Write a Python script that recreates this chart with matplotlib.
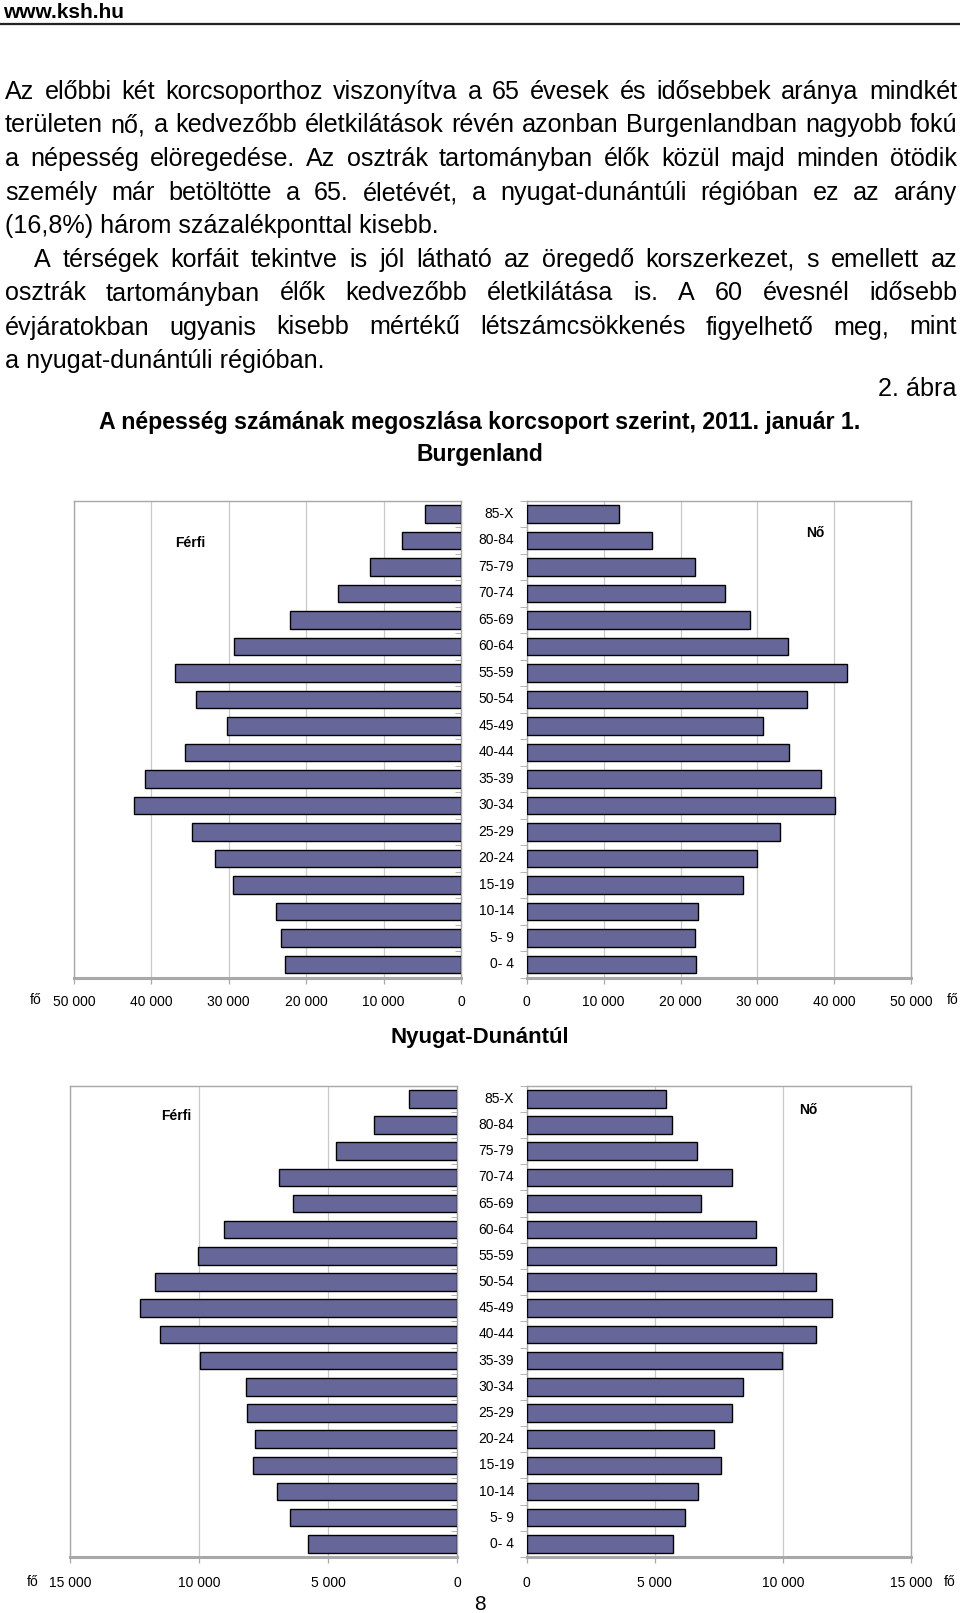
import matplotlib
matplotlib.use("Agg")
import matplotlib.pyplot as plt
import matplotlib.transforms as mtransforms
import numpy as np

plt.rcParams['font.family'] = ['Liberation Sans', 'DejaVu Sans']

# ---------------- data ----------------
age_groups = ["0- 4", "5- 9", "10-14", "15-19", "20-24", "25-29", "30-34", "35-39",
              "40-44", "45-49", "50-54", "55-59", "60-64", "65-69", "70-74", "75-79",
              "80-84", "85-X"]

burg_male = [22740, 23260, 23900, 29460, 31740, 34800, 42290, 40780, 35620,
             30280, 34190, 36950, 29280, 22090, 15930, 11710, 7620, 4650]
burg_female = [21970, 21840, 22310, 28080, 29900, 32970, 40030, 38210, 34140,
               30680, 36440, 41680, 33970, 29030, 25780, 21840, 16290, 12000]

nyd_male = [5800, 6480, 6970, 7900, 7850, 8140, 8180, 9950, 11510,
            12290, 11700, 10050, 9020, 6380, 6920, 4690, 3220, 1860]
nyd_female = [5690, 6190, 6690, 7570, 7320, 8010, 8450, 9970, 11300,
              11900, 11300, 9740, 8950, 6780, 8010, 6640, 5650, 5450]

burg_ticks = [0, 10000, 20000, 30000, 40000, 50000]
nyd_ticks = [0, 5000, 10000, 15000]

header = "www.ksh.hu"
para_lines = [
    ("Az előbbi két korcsoporthoz viszonyítva a 65 évesek és idősebbek aránya mindkét", False, False),
    ("területen nő, a kedvezőbb életkilátások révén azonban Burgenlandban nagyobb fokú", False, False),
    ("a népesség elöregedése. Az osztrák tartományban élők közül majd minden ötödik", False, False),
    ("személy már betöltötte a 65. életévét, a nyugat-dunántúli régióban ez az arány", False, False),
    ("(16,8%) három százalékponttal kisebb.", False, True),
    ("A térségek korfáit tekintve is jól látható az öregedő korszerkezet, s emellett az", True, False),
    ("osztrák tartományban élők kedvezőbb életkilátása is. A 60 évesnél idősebb", False, False),
    ("évjáratokban ugyanis kisebb mértékű létszámcsökkenés figyelhető meg, mint", False, False),
    ("a nyugat-dunántúli régióban.", False, True),
]
fig_label = "2. ábra"
title = "A népesség számának megoszlása korcsoport szerint, 2011. január 1."
sub1 = "Burgenland"
sub2 = "Nyugat-Dunántúl"
male_lbl = "Férfi"
female_lbl = "Nő"
unit = "fő"
page_no = "8"

# ---------------- layout helpers ----------------
W, H = 960, 1613
fig = plt.figure(figsize=(W / 100, H / 100), dpi=100)
BAR = "#666699"
FRAME = "#a8a8a8"
GRID = "#c8c8c8"


def px2fig(x, y):
    return x / W, 1 - y / H


def add_axes_px(x0, y0, x1, y1):
    return fig.add_axes([x0 / W, 1 - y1 / H, (x1 - x0) / W, (y1 - y0) / H])


def fmt(v):
    return f"{int(v):,}".replace(",", " ")


def fig_text(x, y, s, **kw):
    fx, fy = px2fig(x, y)
    return fig.text(fx, fy, s, **kw)


# header
fig_text(3, 18, header, fontsize=15, fontweight='bold', ha='left', va='baseline')
fig.add_artist(plt.Line2D([0, 1], [1 - 24 / H, 1 - 24 / H], color='#222222', linewidth=1.6))

# justified paragraph: font size chosen so the widest line fits with natural spacing
renderer = fig.canvas.get_renderer()
xl, xr = 5, 957
probe_size = 10.0
max_ratio = 0
for line, indent, last in para_lines:
    t = fig_text(0, 0, line, fontsize=probe_size)
    w = t.get_window_extent(renderer).width
    t.remove()
    avail = xr - xl - (29 if indent else 0)
    max_ratio = max(max_ratio, w / avail)
BODY = probe_size / max_ratio * 0.995

line_centers = [91, 124, 158, 192, 225.5, 259, 292.5, 326.5, 360]
for (line, indent, last), yc in zip(para_lines, line_centers):
    yb = yc + 8
    x0 = xl + (29 if indent else 0)
    if last:
        fig_text(x0, yb, line, fontsize=BODY, ha='left', va='baseline')
        continue
    words = line.split(" ")
    texts = [fig_text(0, yb, w, fontsize=BODY, ha='left', va='baseline') for w in words]
    widths = [t.get_window_extent(renderer).width for t in texts]
    gap = (xr - x0 - sum(widths)) / (len(words) - 1)
    x = x0
    for t, wd in zip(texts, widths):
        t.set_x(x / W)
        x += wd + gap

fig_text(957, 396, fig_label, fontsize=BODY, ha='right', va='baseline')
fig_text(480, 423, title, fontsize=16.7, fontweight='bold', ha='center', va='center')
fig_text(480, 455, sub1, fontsize=16.5, fontweight='bold', ha='center', va='center')
fig_text(480, 1037, sub2, fontsize=16, fontweight='bold', ha='center', va='center')
fig_text(480, 1604, page_no, fontsize=15, ha='center', va='center')


def pyramid(lbox, rbox, male, female, ticks, label_pad, fo_y, fo_lx, fo_rx, ferfi_xy, no_xy):
    axL = add_axes_px(*lbox)
    axR = add_axes_px(*rbox)
    n = len(age_groups)
    y = np.arange(n)
    xmax = ticks[-1]
    for ax, vals in ((axL, male), (axR, female)):
        ax.barh(y, vals, height=0.67, color=BAR, edgecolor='black', linewidth=1.0, zorder=3)
        ax.set_xlim(0, xmax)
        ax.set_ylim(-0.5, n - 0.5)
        ax.set_xticks(ticks)
        ax.set_xticklabels([fmt(t) for t in ticks])
        ax.set_yticks([])
        ax.set_yticks(np.arange(-0.5, n, 1.0), minor=True)
        ax.grid(axis='x', color=GRID, linewidth=0.9, zorder=0)
        for s in ax.spines.values():
            s.set_color(FRAME)
            s.set_linewidth(1.0)
        ax.spines['bottom'].set_linewidth(2.2)
        ax.tick_params(axis='x', colors=FRAME, length=4, width=0.9, labelcolor='black',
                       labelsize=10, pad=label_pad)
        ax.set_axisbelow(True)
    axL.invert_xaxis()
    axL.tick_params(axis='y', which='minor', left=False, right=True, direction='in',
                    length=4, color=FRAME)
    axR.tick_params(axis='y', which='minor', left=True, right=False, direction='out',
                    length=5, color=FRAME)
    trans = mtransforms.blended_transform_factory(fig.transFigure, axR.transData)
    for i, lab in enumerate(age_groups):
        fig.text(514 / W, i, lab, transform=trans, ha='right', va='center', fontsize=10)
    fig_text(fo_lx, fo_y, unit, fontsize=10, ha='center', va='center')
    fig_text(fo_rx, fo_y, unit, fontsize=10, ha='center', va='center')
    fig_text(ferfi_xy[0], ferfi_xy[1], male_lbl, fontsize=10, fontweight='bold', ha='center', va='center')
    fig_text(no_xy[0], no_xy[1], female_lbl, fontsize=10, fontweight='bold', ha='center', va='center')


pyramid((74, 500.7, 461, 977.7), (526.7, 500.7, 911.3, 977.7), burg_male, burg_female,
        burg_ticks, 8.5, 1000, 36, 953, (190, 543), (815, 533))
pyramid((70, 1085.7, 457.3, 1557), (526.7, 1085.7, 911.3, 1557), nyd_male, nyd_female,
        nyd_ticks, 10, 1582, 33, 950, (176, 1116), (808, 1110))

fig.savefig("out.png", dpi=100, facecolor='white')
